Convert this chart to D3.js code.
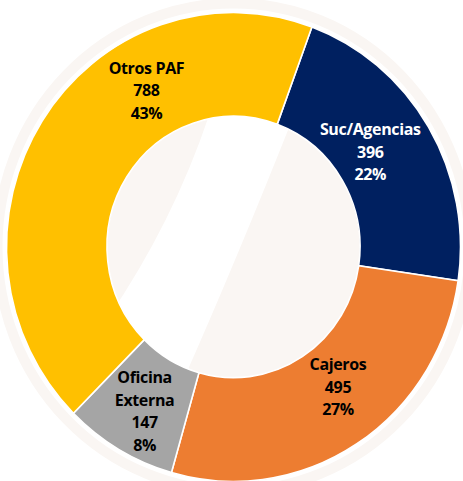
<!DOCTYPE html>
<html>
<head>
<meta charset="utf-8">
<script src="https://cdn.jsdelivr.net/npm/d3@7"></script>
<style>
  html, body { margin: 0; padding: 0; background: #fff; }
  svg { display: block; }
  text { font-family: "Open Sans", "Noto Sans", sans-serif; font-weight: 700; }
</style>
</head>
<body>
<svg id="chart" width="463" height="481"></svg>
<script>
'use strict';

const categories = ['Suc/Agencias', 'Cajeros', 'Oficina Externa', 'Otros PAF'];
const values = [396, 495, 147, 788];
const percents = ['22%', '27%', '8%', '43%'];
const labelLines = [['Suc/Agencias'], ['Cajeros'], ['Oficina', 'Externa'], ['Otros PAF']];
const colors = ['#002060', '#ED7D31', '#A5A5A5', '#FFC000'];
const textColors = ['#ffffff', '#000000', '#000000', '#000000'];

const width = 463,
      height = 481,
      cx = 233.5,
      cy = 247,
      stretch = 1.033,
      outerR = 227,
      innerR = 126.5,
      labelR = 172,
      lineH = 22.5;

// manual label nudges (the original labels were dragged around)
const nudge = [[-11, -4], [11, -9], [-2, 11], [58, -61]];

const svg = d3.select('#chart');

// faint watermark behind the chart
const bg = svg.append('g')
  .attr('transform', `translate(${cx},${cy}) scale(1,${stretch})`);

bg.append('circle')
  .attr('r', outerR + 9)
  .attr('fill', 'none')
  .attr('stroke', '#faf6f3')
  .attr('stroke-width', 10);

bg.append('circle')
  .attr('r', innerR)
  .attr('fill', '#faf6f3');

svg.append('clipPath')
  .attr('id', 'hole')
  .append('ellipse')
  .attr('cx', cx)
  .attr('cy', cy)
  .attr('rx', innerR)
  .attr('ry', innerR * stretch);

svg.append('path')
  .attr('clip-path', 'url(#hole)')
  .attr('d', 'M214,100 Q178,215 108,318 L178,392 Q236,262 300,100 Z')
  .attr('fill', '#ffffff');

const pie = d3.pie()
  .sort(null)
  .value(d => d)
  .startAngle(20.2 * Math.PI / 180)
  .endAngle(20.2 * Math.PI / 180 + 2 * Math.PI);

const arc = d3.arc()
  .innerRadius(innerR)
  .outerRadius(outerR);

const labelArc = d3.arc()
  .innerRadius(labelR)
  .outerRadius(labelR);

const arcs = pie(values);

const g = svg.append('g')
  .attr('transform', `translate(${cx},${cy}) scale(1,${stretch})`);

g.selectAll('path.slice')
  .data(arcs)
  .join('path')
  .attr('class', 'slice')
  .attr('d', arc)
  .attr('fill', (d, i) => colors[i])
  .attr('stroke', '#ffffff')
  .attr('stroke-width', 1.6);

svg.append('g')
  .selectAll('text')
  .data(arcs)
  .join('text')
  .attr('text-anchor', 'middle')
  .attr('font-size', 16)
  .attr('letter-spacing', -0.35)
  .attr('fill', (d, i) => textColors[i])
  .each(function (d, i) {
    const [x, y] = labelArc.centroid(d);
    const px = cx + x + nudge[i][0],
          py = cy + y * stretch + nudge[i][1];
    const lines = labelLines[i].concat([String(values[i]), percents[i]]);
    const top = py - (lines.length - 1) * lineH / 2;
    const t = d3.select(this);
    lines.forEach((line, k) => {
      t.append('tspan')
        .attr('x', px)
        .attr('y', top + k * lineH)
        .attr('dy', '0.35em')
        .text(line);
    });
  });
</script>
</body>
</html>
